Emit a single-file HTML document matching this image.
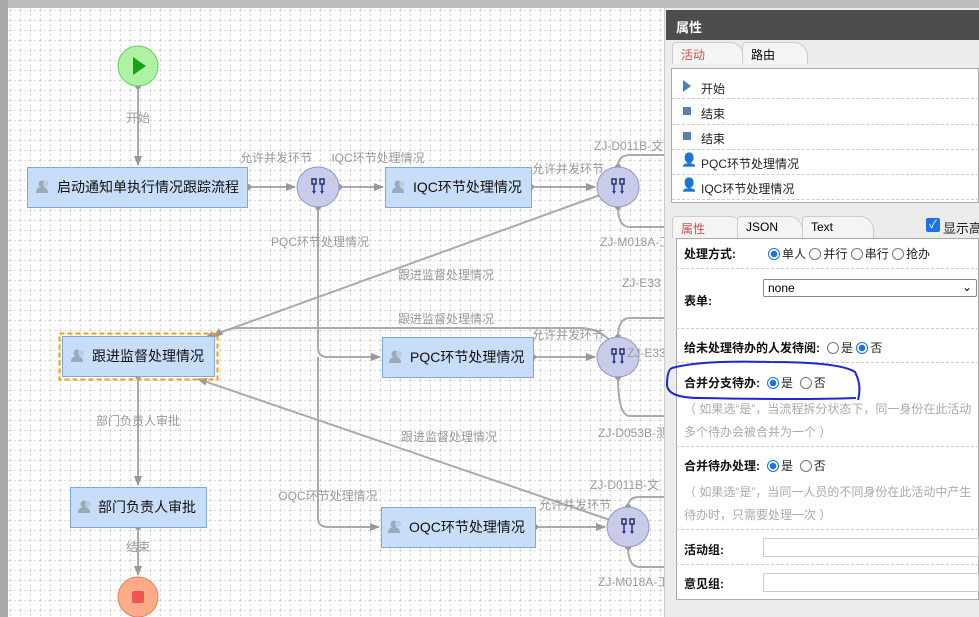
<!DOCTYPE html>
<html><head><meta charset="utf-8"><style>
*{margin:0;padding:0;box-sizing:border-box}
body{width:979px;height:617px;overflow:hidden;background:#fff;font-family:"Liberation Sans","Noto Sans CJK SC",sans-serif;position:relative}
#cv{position:absolute;left:0;top:0}
.p{position:absolute;font-size:12px;color:#222}
.row{position:absolute;left:676px;width:303px;border-bottom:1px dashed #ccc}
.lab{position:absolute;font-size:12px;font-weight:bold;color:#111}
.r{display:inline-block;width:12px;height:12px;border:1px solid #777;border-radius:50%;vertical-align:-2px;margin-right:2px;background:#fff}
.r.on{border:1px solid #1a73e8;background:radial-gradient(circle,#1a73e8 0 3px,#fff 3.5px)}
.help{position:absolute;font-size:12px;color:#aaa;left:684px}
.tab{position:absolute;height:22px;border:1px solid #ccc;border-bottom:none;border-radius:4px 14px 0 0;font-size:12px;padding:3px 0 0 8px;background:#f4f4f4}
</style></head><body>
<svg id="cv" width="979" height="617" xmlns="http://www.w3.org/2000/svg" font-family="Liberation Sans,Noto Sans CJK SC,sans-serif">
<defs>
<pattern id="g" width="10" height="10" patternUnits="userSpaceOnUse"><path d="M0 0.5H10M0.5 0V10" stroke="#ddd" stroke-width="1" stroke-dasharray="2 2" fill="none"/></pattern>
<marker id="a" markerWidth="10" markerHeight="10" refX="9" refY="5" orient="auto" markerUnits="userSpaceOnUse"><path d="M0 1L10 5L0 9z" fill="#999"/></marker>
<g id="ic"><circle cx="0" cy="-3" r="3.5" fill="#9ab"/><path d="M-6 6Q-6 0 0 0Q6 0 6 6z" fill="#9ab"/><circle cx="4" cy="-3" r="3" fill="#bcd"/></g>
<g id="gw"><ellipse rx="21" ry="20" fill="#c8cce8" stroke="#8f96cc"/><rect x="-6" y="-8" width="4" height="5" fill="none" stroke="#236" stroke-width="1.5"/><rect x="2" y="-8" width="4" height="5" fill="none" stroke="#236" stroke-width="1.5"/><path d="M-4 -3V6M4 -3V6" stroke="#23a" stroke-width="1.5"/><path d="M-6 4L-4 7L-2 4M2 4L4 7L6 4" fill="#23a"/></g>
</defs>
<rect width="979" height="617" fill="#f0f0f0"/>
<rect x="8" y="8" width="660" height="609" fill="#fff"/>
<rect x="8" y="8" width="660" height="609" fill="url(#g)"/>
<rect x="0" y="0" width="979" height="8" fill="#bdbdbd"/>
<rect x="0" y="0" width="8" height="617" fill="#a8a8a8"/>
<g stroke="#aaa" stroke-width="2" fill="none">
<path d="M138 86V165" marker-end="url(#a)"/>
<path d="M248 187H295" marker-end="url(#a)"/>
<path d="M339 187H383" marker-end="url(#a)"/>
<path d="M531 187H595" marker-end="url(#a)"/>
<path d="M318 207V348Q318 357 328 357H380" marker-end="url(#a)"/>
<path d="M318 357V518Q318 527 328 527H379" marker-end="url(#a)"/>
<path d="M533 357H595" marker-end="url(#a)"/>
<path d="M535 527H605" marker-end="url(#a)"/>
<path d="M600 195L205 338" marker-end="url(#a)"/>
<path d="M612 343Q600 328 580 328H240Q225 328 214 337" marker-end="url(#a)"/>
<path d="M610 520L198 379" marker-end="url(#a)"/>
<path d="M138 376V485" marker-end="url(#a)"/>
<path d="M138 527V575" marker-end="url(#a)"/>
<path d="M618 167Q618 155 630 155H668M618 207Q618 227 630 227H668"/>
<path d="M618 337Q618 318 630 318H668M618 377Q618 416 630 416H668"/>
<path d="M628 507Q628 497 640 497H668M628 547Q628 567 640 567H668"/>
</g>
<g fill="#999"><circle cx="138" cy="86" r="3"/><circle cx="248" cy="187" r="3"/><circle cx="339" cy="187" r="3"/><circle cx="318" cy="207" r="3"/><circle cx="531" cy="187" r="3"/><circle cx="533" cy="357" r="3"/><circle cx="535" cy="527" r="3"/><circle cx="138" cy="376" r="3"/><circle cx="138" cy="527" r="3"/><circle cx="618" cy="167" r="3"/><circle cx="618" cy="207" r="3"/><circle cx="618" cy="337" r="3"/><circle cx="618" cy="377" r="3"/><circle cx="628" cy="507" r="3"/><circle cx="628" cy="547" r="3"/></g>
<circle cx="138" cy="66" r="20" fill="#b0f2a4" stroke="#6c6"/><path d="M133 57L146 66L133 75z" fill="#1aa01a"/>
<circle cx="138" cy="597" r="20" fill="#ffab88" stroke="#e08060"/><rect x="132" y="591" width="12" height="12" rx="2" fill="#e55"/>
<g fill="#c8ddf8" stroke="#7aa8e8">
<rect x="27.5" y="167.5" width="220" height="40"/><rect x="385.5" y="167.5" width="146" height="40"/>
<rect x="62.5" y="336.5" width="152" height="40"/><rect x="382.5" y="337.5" width="151" height="40"/>
<rect x="70.5" y="487.5" width="136" height="40"/><rect x="381.5" y="507.5" width="154" height="40"/>
</g>
<rect x="59.5" y="333.5" width="158" height="46" fill="none" stroke="#f5a000" stroke-width="2" stroke-dasharray="5 3"/>
<use href="#gw" x="318" y="187"/><use href="#gw" x="618" y="187"/><use href="#gw" x="618" y="357"/><use href="#gw" x="628" y="527"/>
<use href="#ic" x="42" y="187"/><use href="#ic" x="398" y="187"/><use href="#ic" x="77" y="356"/><use href="#ic" x="395" y="357"/><use href="#ic" x="84" y="507"/><use href="#ic" x="394" y="527"/>
<g font-size="14" fill="#111"><text x="57" y="192">启动通知单执行情况跟踪流程</text><text x="413" y="192">IQC环节处理情况</text><text x="92" y="361">跟进监督处理情况</text><text x="410" y="362">PQC环节处理情况</text><text x="98" y="512">部门负责人审批</text><text x="409" y="532">OQC环节处理情况</text></g>
<g font-size="12" fill="#999" text-anchor="middle">
<text x="138" y="122">开始</text><text x="276" y="162">允许并发环节</text><text x="378" y="162">IQC环节处理情况</text><text x="568" y="173">允许并发环节</text>
<text x="320" y="246">PQC环节处理情况</text><text x="446" y="279">跟进监督处理情况</text><text x="446" y="323">跟进监督处理情况</text><text x="449" y="441">跟进监督处理情况</text>
<text x="568" y="339">允许并发环节</text><text x="138" y="425">部门负责人审批</text><text x="328" y="500">OQC环节处理情况</text><text x="575" y="509">允许并发环节</text><text x="138" y="551">结束</text>
</g>
<g font-size="12" fill="#999"><text x="594" y="150">ZJ-D011B-文</text><text x="600" y="246">ZJ-M018A-工</text><text x="622" y="287">ZJ-E33</text><text x="627" y="357">ZJ-E33</text><text x="598" y="437">ZJ-D053B-测</text><text x="590" y="489">ZJ-D011B-文</text><text x="598" y="586">ZJ-M018A-工</text></g>
</svg>
<div style="position:absolute;left:664px;top:8px;width:315px;height:609px;background:#ececec;border-left:1px solid #ccc"></div>
<div style="position:absolute;left:666px;top:10px;width:313px;height:30px;background:#4d4d4d;color:#fff;font-size:13px;font-weight:bold;padding:7px 0 0 10px">属性</div>
<div class="tab" style="left:672px;top:42px;width:72px;color:#d05050">活动</div>
<div class="tab" style="left:742px;top:42px;width:66px">路由</div>
<div style="position:absolute;left:671px;top:68px;width:308px;height:135px;background:#fff;border:1px solid #aaa"></div>
<div class="p" style="left:683px;top:80px;width:0;height:0;border-left:8px solid #4a7cc8;border-top:6px solid transparent;border-bottom:6px solid transparent"></div>
<div class="p" style="left:701px;top:80px">开始</div>
<div class="p" style="left:683px;top:107px;width:8px;height:8px;background:#5a7fb0"></div><div class="p" style="left:701px;top:105px">结束</div>
<div class="p" style="left:683px;top:132px;width:8px;height:8px;background:#5a7fb0"></div><div class="p" style="left:701px;top:130px">结束</div>
<div class="p" style="left:681px;top:152px;font-size:13px">👤</div><div class="p" style="left:701px;top:155px">PQC环节处理情况</div>
<div class="p" style="left:681px;top:177px;font-size:13px">👤</div><div class="p" style="left:701px;top:180px">IQC环节处理情况</div>
<div style="position:absolute;left:672px;top:98px;width:307px;border-top:1px dashed #ccc"></div>
<div style="position:absolute;left:672px;top:124px;width:307px;border-top:1px dashed #ccc"></div>
<div style="position:absolute;left:672px;top:149px;width:307px;border-top:1px dashed #ccc"></div>
<div style="position:absolute;left:672px;top:174px;width:307px;border-top:1px dashed #ccc"></div>
<div style="position:absolute;left:672px;top:199px;width:307px;border-top:1px dashed #ccc"></div>
<div class="tab" style="left:672px;top:216px;width:72px;color:#d05050">属性</div>
<div class="tab" style="left:737px;top:216px;width:66px">JSON</div>
<div class="tab" style="left:802px;top:216px;width:72px">Text</div>
<div class="p" style="left:926px;top:218px;width:14px;height:14px;background:#1a73e8;border-radius:2px;color:#fff;font-size:11px;text-align:center;line-height:14px">✓</div>
<div class="p" style="left:943px;top:218px;font-size:13px;white-space:nowrap">显示高</div>
<div style="position:absolute;left:676px;top:238px;width:303px;height:362px;background:#fff;border:1px solid #aaa"></div>
<div class="lab" style="left:684px;top:245px">处理方式:</div>
<div class="p" style="left:768px;top:245px"><span class="r on"></span>单人 <span class="r"></span>并行 <span class="r"></span>串行 <span class="r"></span>抢办</div>
<div class="row" style="top:268px"></div>
<div style="position:absolute;left:763px;top:279px;width:214px;height:18px;border:1px solid #888;border-radius:2px;font-size:12px;padding:1px 0 0 4px">none<span style="position:absolute;right:4px;top:0">⌄</span></div>
<div class="lab" style="left:684px;top:292px">表单:</div>
<div class="row" style="top:328px"></div>
<div class="lab" style="left:684px;top:339px">给未处理待办的人发待阅:</div>
<div class="p" style="left:827px;top:339px"><span class="r"></span>是 <span class="r on"></span>否</div>
<div class="row" style="top:362px"></div>
<div class="lab" style="left:684px;top:374px">合并分支待办:</div>
<div class="p" style="left:767px;top:374px"><span class="r on"></span>是 &nbsp;<span class="r"></span>否</div>
<div class="help" style="top:400px;white-space:nowrap">（ 如果选“是”，当流程拆分状态下，同一身份在此活动</div>
<div class="help" style="top:423px">多个待办会被合并为一个 ）</div>
<div class="row" style="top:446px"></div>
<div class="lab" style="left:684px;top:457px">合并待办处理:</div>
<div class="p" style="left:767px;top:457px"><span class="r on"></span>是 &nbsp;<span class="r"></span>否</div>
<div class="help" style="top:483px;white-space:nowrap">（ 如果选“是”，当同一人员的不同身份在此活动中产生</div>
<div class="help" style="top:506px">待办时，只需要处理一次 ）</div>
<div class="row" style="top:529px"></div>
<div class="lab" style="left:684px;top:541px">活动组:</div>
<div style="position:absolute;left:763px;top:538px;width:216px;height:19px;border:1px solid #ccc"></div>
<div class="row" style="top:564px"></div>
<div class="lab" style="left:684px;top:575px">意见组:</div>
<div style="position:absolute;left:763px;top:573px;width:216px;height:19px;border:1px solid #ccc"></div>
<svg style="position:absolute;left:0;top:0" width="979" height="617"><path d="M672 368Q700 360 770 362Q840 362 855 372Q862 385 858 400M856 398Q800 400 700 398Q668 398 667 385Q667 370 672 368" fill="none" stroke="#1a2ad0" stroke-width="2"/></svg>
</body></html>
